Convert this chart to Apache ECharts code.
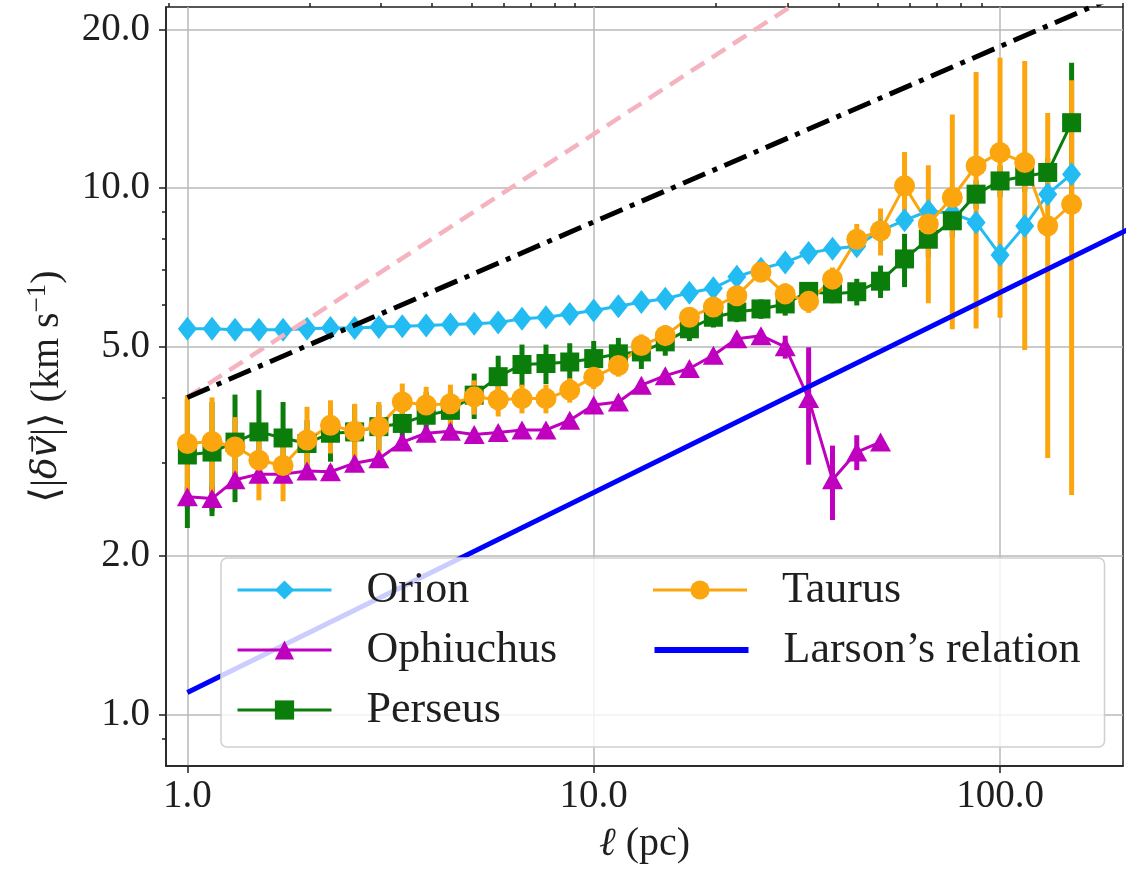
<!DOCTYPE html>
<html>
<head>
<meta charset="utf-8">
<script src="https://cdn.jsdelivr.net/npm/echarts@6/dist/echarts.min.js"></script>
<style>
  html, body { margin: 0; padding: 0; background: #ffffff; }
  #chart { width: 1132px; height: 869px; }
</style>
</head>
<body>
<div id="chart"></div>
<script>
// Spatial scale of each bin (pc), shared by every cloud
const scales = [1.00, 1.15, 1.31, 1.50, 1.72, 1.97, 2.25, 2.58, 2.96, 3.38,
                3.87, 4.44, 5.08, 5.82, 6.66, 7.63, 8.73, 10.0, 11.5, 13.1,
                15.0, 17.2, 19.7, 22.5, 25.8, 29.6, 33.8, 38.7, 44.4, 50.8,
                58.2, 66.6, 76.3, 87.3, 100, 115, 131, 150];

// Mean velocity difference <|dv|> (km/s) per cloud
const orionV = [5.40, 5.40, 5.38, 5.38, 5.38, 5.40, 5.42, 5.42, 5.44, 5.46,
                5.48, 5.50, 5.52, 5.55, 5.64, 5.68, 5.76, 5.85, 5.96, 6.07,
                6.16, 6.32, 6.45, 6.78, 7.02, 7.22, 7.52, 7.66, 7.75, 8.30,
                8.68, 9.04, 8.95, 8.60, 7.46, 8.47, 9.73, 10.62];

const ophiuchusV = [2.59, 2.57, 2.79, 2.86, 2.86, 2.90, 2.89, 3.00, 3.06, 3.29,
                    3.42, 3.45, 3.40, 3.43, 3.47, 3.47, 3.62, 3.87, 3.92, 4.22,
                    4.40, 4.54, 4.81, 5.17, 5.24, 4.99, 3.98, 2.79, 3.15, 3.29];
const ophiuchusErr = [0.12, 0.14, 0.10, 0.08, 0.08, 0.08, 0.08, 0.08, 0.08, 0.08,
                      0.08, 0.08, 0.08, 0.08, 0.08, 0.08, 0.08, 0.08, 0.08, 0.08,
                      0.08, 0.08, 0.08, 0.10, 0.12, 0.25, 1.00, 0.45, 0.24, 0.06];

const perseusV = [3.11, 3.15, 3.29, 3.44, 3.35, 3.27, 3.42, 3.44, 3.52, 3.57,
                  3.70, 3.78, 4.04, 4.38, 4.62, 4.64, 4.67, 4.74, 4.84, 4.88,
                  5.10, 5.40, 5.68, 5.81, 5.89, 6.02, 6.36, 6.29, 6.35, 6.65,
                  7.33, 7.99, 8.66, 9.73, 10.31, 10.52, 10.70, 13.30];
const perseusErr = [0.85, 0.77, 0.76, 0.69, 0.57, 0.35, 0.40, 0.43, 0.35, 0.32,
                    0.40, 0.35, 0.40, 0.42, 0.42, 0.40, 0.40, 0.38, 0.35, 0.35,
                    0.30, 0.28, 0.25, 0.25, 0.25, 0.30, 0.25, 0.25, 0.37, 0.47,
                    0.85, 0.60, 0.60, 0.60, 0.70, 0.70, 0.70, 3.98];

const taurusV = [3.27, 3.30, 3.22, 3.04, 2.97, 3.32, 3.54, 3.45, 3.52, 3.92,
                 3.87, 3.89, 4.01, 3.96, 3.98, 3.98, 4.13, 4.37, 4.60, 5.02,
                 5.24, 5.68, 5.94, 6.24, 6.92, 6.29, 6.09, 6.71, 7.99, 8.29,
                 10.09, 8.54, 9.59, 11.01, 11.67, 11.17, 8.47, 9.31];
const taurusErr = [0.77, 0.70, 0.45, 0.49, 0.43, 0.52, 0.41, 0.44, 0.40, 0.33,
                   0.32, 0.34, 0.30, 0.28, 0.25, 0.25, 0.22, 0.22, 0.22, 0.25,
                   0.25, 0.25, 0.25, 0.28, 0.30, 0.30, 0.30, 0.35, 0.55, 0.85,
                   1.61, 2.50, 4.20, 5.60, 6.00, 6.25, 5.40, 6.70];

// Reference power laws (end points) and Larson's relation 1.1 l^0.38
const slopeHalf = [[1, 4.0], [36, 24.0]];
const slopeThird = [[1, 4.0], [216, 24.0]];
const larson = [[1, 1.1], [210, 8.39]];

// Slope annotations
const slopeLabelX = [12.7, 49.8];
const slopeLabelY = [17.9, 17.9];
const slopeLabelText = ['1/2', '1/3'];

// Axis ticks
const xMajor = [1, 10, 100];
const xMinor = [0.9, 2, 3, 4, 5, 6, 7, 8, 9, 20, 30, 40, 50, 60, 70, 80, 90, 200];
const yMajor = [1, 2, 5, 10, 20];
const yMinor = [0.9, 3, 4, 6, 7, 8, 9];

const FONT = "'Liberation Serif', 'DejaVu Serif', serif";
const MATH_FONT = "'DejaVu Serif', 'DejaVu Sans', serif";
const INK = '#1f1f1f';
const GRIDC = '#b8b8b8';

const colors = {
  orion: '#22bcf2',
  ophiuchus: '#bf00bf',
  perseus: '#0a7d0a',
  taurus: '#fca60f',
  larson: '#0000ff',
  half: '#f5b3c0',
  third: '#000000'
};

const X_RANGE = [0.886, 200.7];
const Y_RANGE = [0.798, 22.06];

function pairs(vals) {
  return vals.map((v, i) => [scales[i], v]);
}

function errorBars(name, vals, errs, color) {
  return {
    type: 'custom',
    name: name + ' errors',
    z: 1,
    silent: true,
    clip: true,
    data: vals.map((v, i) => [scales[i], v, errs[i]]),
    encode: { x: 0, y: 1 },
    renderItem(params, api) {
      const x = api.value(0), y = api.value(1), e = api.value(2);
      const lo = api.coord([x, y - e]);
      const hi = api.coord([x, y + e]);
      return {
        type: 'line',
        shape: { x1: lo[0], y1: lo[1], x2: hi[0], y2: hi[1] },
        style: { stroke: color, lineWidth: 5 }
      };
    }
  };
}

function cloud(name, vals, color, symbol, size) {
  return {
    type: 'line',
    name: name,
    z: 2,
    data: pairs(vals),
    symbol: symbol,
    symbolSize: size,
    showAllSymbol: true,
    lineStyle: { color: color, width: 3 },
    itemStyle: { color: color },
    emphasis: { disabled: true }
  };
}

function refLine(name, pts, color, width, type) {
  return {
    type: 'line',
    name: name,
    z: 3,
    data: pts,
    symbol: 'none',
    lineStyle: { color: color, width: width, type: type },
    itemStyle: { color: color },
    emphasis: { disabled: true }
  };
}

function logAxis(common) {
  return Object.assign({ type: 'log', logBase: 10 }, common);
}

const tickStyle = { color: INK, width: 1.5 };

const legendNamesLeft = ['Orion', 'Ophiuchus', 'Perseus'];

const chart = echarts.init(document.getElementById('chart'), null, { renderer: 'canvas' });

chart.setOption({
  animation: false,
  backgroundColor: '#ffffff',
  grid: {
    left: 166, right: 9, top: 7, bottom: 101,
    show: true, borderColor: INK, borderWidth: 1.5,
    backgroundColor: 'transparent'
  },
  xAxis: [
    logAxis({
      min: X_RANGE[0], max: X_RANGE[1],
      name: '{it|ℓ} (pc)',
      nameLocation: 'middle',
      nameGap: 58,
      nameMoveOverlap: false,
      nameTextStyle: {
        fontFamily: FONT, fontSize: 40, color: INK,
        rich: { it: { fontFamily: FONT, fontSize: 40, fontStyle: 'italic', color: INK } }
      },
      axisLine: { show: true, lineStyle: tickStyle },
      axisTick: { show: true, customValues: xMajor, length: 7, inside: false, lineStyle: tickStyle },
      axisLabel: {
        customValues: xMajor, margin: 11,
        fontFamily: FONT, fontSize: 39, color: INK,
        formatter: v => Number(v).toFixed(1)
      },
      splitLine: { show: true, lineStyle: { color: GRIDC, width: 1.5 } }
    }),
    logAxis({
      min: X_RANGE[0], max: X_RANGE[1],
      axisLine: { show: false },
      axisTick: { show: true, customValues: xMinor, length: 4, inside: false, lineStyle: tickStyle },
      axisLabel: { show: false },
      splitLine: { show: false }
    })
  ],
  yAxis: [
    logAxis({
      min: Y_RANGE[0], max: Y_RANGE[1],
      name: '⟨|{it|δv⃗}|⟩ (km s{sup|−1})',
      nameLocation: 'middle',
      nameRotate: 90,
      nameGap: 96,
      nameMoveOverlap: false,
      nameTextStyle: {
        fontFamily: FONT, fontSize: 40, color: INK, lineHeight: 46,
        rich: {
          it: { fontFamily: MATH_FONT, fontSize: 36, fontStyle: 'italic', color: INK, lineHeight: 46 },
          sup: { fontFamily: FONT, fontSize: 27, color: INK, lineHeight: 46, verticalAlign: 'top', padding: [0, 0, 14, 0] }
        }
      },
      axisLine: { show: true, lineStyle: tickStyle },
      axisTick: { show: true, customValues: yMajor, length: 7, inside: false, lineStyle: tickStyle },
      axisLabel: {
        customValues: yMajor, margin: 16,
        fontFamily: FONT, fontSize: 39, color: INK,
        formatter: v => Number(v).toFixed(1)
      },
      splitLine: { show: true, lineStyle: { color: GRIDC, width: 1.5 } }
    }),
    logAxis({
      min: Y_RANGE[0], max: Y_RANGE[1],
      position: 'left',
      axisLine: { show: false },
      axisTick: { show: true, customValues: yMinor, length: 4, inside: false, lineStyle: tickStyle },
      axisLabel: { show: false },
      splitLine: { show: false }
    })
  ],
  legend: {
    data: [
      { name: 'Orion', lineStyle: { width: 3 } },
      { name: 'Taurus', lineStyle: { width: 3 } },
      { name: 'Ophiuchus', lineStyle: { width: 3 } },
      { name: 'Larson’s relation', lineStyle: { width: 6 }, itemStyle: { opacity: 0 } },
      { name: 'Perseus', lineStyle: { width: 3 } }
    ],
    orient: 'horizontal',
    left: 221, top: 558,
    width: 850,
    padding: [9.5, 20, 14.5, 15],
    itemGap: 15,
    itemWidth: 94,
    itemHeight: 24,
    selectedMode: false,
    backgroundColor: 'rgba(255,255,255,0.8)',
    borderColor: '#cfcfcf',
    borderWidth: 1.5,
    borderRadius: 6,
    z: 6,
    formatter: name => '{s| }{' + (legendNamesLeft.includes(name) ? 'a' : 'b') + '|' + name + '}',
    textStyle: {
      fontFamily: FONT, fontSize: 44, color: INK, lineHeight: 45,
      rich: {
        s: { width: 30, fontFamily: FONT, fontSize: 44, lineHeight: 45 },
        a: { width: 270, fontFamily: FONT, fontSize: 44, color: INK, lineHeight: 45 },
        b: { width: 301, fontFamily: FONT, fontSize: 44, color: INK, lineHeight: 45 }
      }
    }
  },
  series: [
    errorBars('Ophiuchus', ophiuchusV, ophiuchusErr, colors.ophiuchus),
    errorBars('Perseus', perseusV, perseusErr, colors.perseus),
    errorBars('Taurus', taurusV, taurusErr, colors.taurus),
    cloud('Orion', orionV, colors.orion, 'diamond', [19, 24]),
    cloud('Ophiuchus', ophiuchusV, colors.ophiuchus, 'triangle', [21, 19]),
    cloud('Perseus', perseusV, colors.perseus, 'rect', 19),
    cloud('Taurus', taurusV, colors.taurus, 'circle', 21),
    refLine('slope 1/2', slopeHalf, colors.half, 4.5, [16, 9]),
    refLine('slope 1/3', slopeThird, colors.third, 5, [24, 8, 5, 8]),
    refLine('Larson’s relation', larson, colors.larson, 5, 'solid'),
    {
      type: 'scatter',
      name: 'slope labels',
      z: 3,
      silent: true,
      symbolSize: 1,
      itemStyle: { opacity: 0 },
      data: slopeLabelX.map((x, i) => ({ value: [x, slopeLabelY[i]], name: slopeLabelText[i] })),
      label: {
        show: true, position: 'inside',
        formatter: p => p.name,
        fontFamily: FONT, fontSize: 39, color: INK
      }
    }
  ]
});
</script>
</body>
</html>
